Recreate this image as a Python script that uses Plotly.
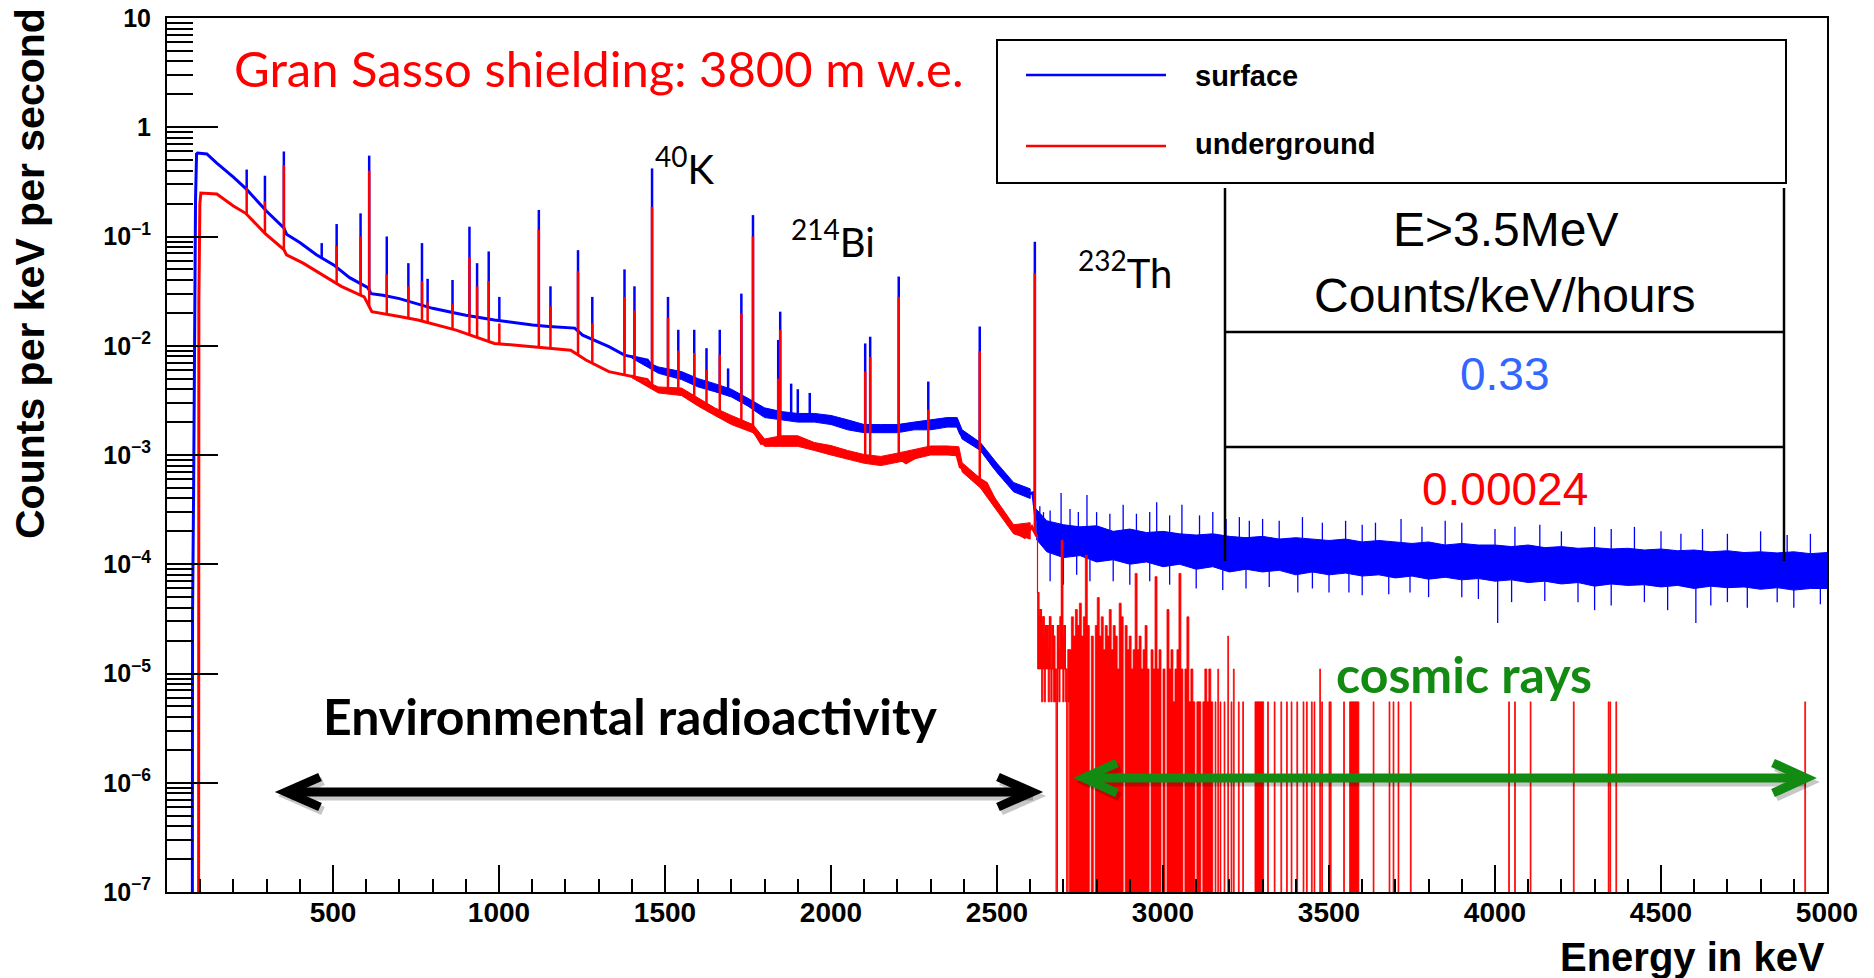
import numpy as np
import plotly.graph_objects as go

# ---------------- data ----------------
# Surface (blue) continuum, keV -> counts per keV per second
surf_cont_E = [76, 77, 80, 83, 86, 89, 92, 120, 150, 200, 240, 300, 352, 360, 400, 450, 502, 550, 605,
               615, 650, 700, 756, 800, 871, 900, 986, 1050, 1101, 1150, 1228, 1252, 1300, 1331, 1378,
               1447, 1465, 1520, 1600, 1678, 1727, 1770, 1788, 1881, 1996, 2050, 2111, 2226, 2300, 2376,
               2390, 2445, 2491, 2548, 2595, 2608, 2618]
surf_cont_V = [1e-9, 3.7e-5, 4.1e-4, 0.03, 0.22, 0.57, 0.58, 0.57, 0.47, 0.35, 0.27, 0.17, 0.12, 0.105,
               0.088, 0.068, 0.055, 0.042, 0.034, 0.030, 0.029, 0.027, 0.024, 0.022, 0.0198, 0.019,
               0.0172, 0.0162, 0.0155, 0.015, 0.0145, 0.0125, 0.0108, 0.0098, 0.0082, 0.0074, 0.0062,
               0.0058, 0.0045, 0.0040, 0.0034, 0.0028, 0.0025, 0.0023, 0.0022, 0.0019, 0.00175, 0.00175,
               0.0019, 0.0020, 0.00158, 0.0012, 0.00078, 0.00051, 0.00044, 0.00045, 2.5e-4]
# noisy (thick) part of the surface continuum: lower / upper edge
surf_noise_E = [1400, 1480, 1550, 1600, 1650, 1700, 1750, 1800, 1850, 1900, 1950, 2000, 2050, 2100, 2150,
                2200, 2250, 2300, 2350, 2380, 2395, 2450, 2500, 2550, 2600]
surf_noise_lo = [0.0077, 0.0056, 0.0049, 0.0042, 0.0038, 0.0034, 0.0028, 0.0022, 0.0021, 0.0020, 0.0020,
                 0.0019, 0.0017, 0.0016, 0.0016, 0.0016, 0.0017, 0.0017, 0.0018, 0.0018, 0.0014, 0.0011,
                 0.00069, 0.00046, 0.00040]
surf_noise_hi = [0.0081, 0.0064, 0.0058, 0.0050, 0.0045, 0.0040, 0.0033, 0.0027, 0.0025, 0.0024, 0.0024,
                 0.0023, 0.0021, 0.0019, 0.0019, 0.0019, 0.0020, 0.0021, 0.0022, 0.0022, 0.0017, 0.0013,
                 0.00084, 0.00056, 0.00049]

# Underground (red) continuum
ug_cont_E = [95, 96, 99, 102, 150, 200, 237, 295, 352, 360, 410, 525, 594, 617, 700, 756, 871, 986,
             1101, 1216, 1262, 1331, 1446, 1470, 1540, 1650, 1765, 1790, 1881, 1996, 2088, 2134, 2203,
             2226, 2290, 2376, 2389, 2468, 2514, 2549, 2583, 2605, 2620]
ug_cont_V = [1e-9, 0.025, 0.2, 0.25, 0.245, 0.19, 0.163, 0.107, 0.076, 0.068, 0.057, 0.035, 0.028,
             0.0205, 0.0185, 0.0172, 0.0139, 0.0105, 0.0098, 0.0091, 0.0074, 0.0058, 0.0049, 0.0040,
             0.0038, 0.0024, 0.0017, 0.00128, 0.00137, 0.00111, 0.00093, 0.0009, 0.00095, 0.00085,
             0.0011, 0.0011, 0.00078, 0.00055, 0.00029, 0.000205, 0.000177, 0.00022, 0.00018]
ug_noise_E = [1400, 1480, 1550, 1600, 1650, 1700, 1765, 1800, 1850, 1900, 1950, 2000, 2050, 2100, 2150,
              2200, 2250, 2300, 2350, 2385, 2395, 2450, 2500, 2550, 2600]
ug_noise_lo = [0.0051, 0.0037, 0.0035, 0.0028, 0.0023, 0.0019, 0.0016, 0.0012, 0.0012, 0.0012, 0.0011,
               0.00100, 0.00091, 0.00084, 0.00080, 0.00086, 0.00092, 0.00100, 0.00100, 0.00098, 0.00070,
               0.00050, 0.00031, 0.00019, 0.00017]
ug_noise_hi = [0.0054, 0.0042, 0.0041, 0.0033, 0.0027, 0.0023, 0.0019, 0.0014, 0.0015, 0.0015, 0.0013,
               0.00122, 0.00110, 0.00101, 0.00097, 0.00104, 0.00112, 0.00121, 0.00121, 0.00119, 0.00085,
               0.00061, 0.00038, 0.00023, 0.00024]

# Gamma lines: energy, top of surface line, top of underground line (0 = not visible)
peak_E = [240, 295, 352, 466, 511, 583, 609, 662, 727, 768, 785, 860, 911, 934, 969, 1001, 1120, 1155,
          1238, 1281, 1378, 1408, 1461, 1509, 1540, 1588, 1625, 1665, 1690, 1730, 1765, 1841, 1847,
          1880, 1900, 1936, 2103, 2118, 2204, 2293, 2448, 2614]
peak_surf = [0.41, 0.36, 0.60, 0.087, 0.13, 0.163, 0.55, 0.10, 0.057, 0.087, 0.041, 0.040, 0.123,
             0.057, 0.073, 0.028, 0.175, 0.035, 0.075, 0.028, 0.05, 0.035, 0.42, 0.028, 0.014, 0.014,
             0.0095, 0.014, 0.0062, 0.030, 0.157, 0.0113, 0.0205, 0.0045, 0.0040, 0.0037, 0.0105,
             0.0121, 0.043, 0.0047, 0.015, 0.0897]
peak_ug = [0.28, 0.21, 0.45, 0, 0.082, 0.10, 0.40, 0.045, 0.035, 0.039, 0.025, 0.024, 0.065, 0.035,
           0.039, 0.016, 0.115, 0.023, 0.048, 0.016, 0.028, 0.021, 0.187, 0.018, 0.009, 0.0086, 0.006,
           0.0083, 0, 0.0198, 0.10, 0.005, 0.014, 0, 0, 0, 0.0058, 0.0079, 0.028, 0.0026, 0.0089, 0.046]

# Surface spectrum above the 2614 keV line: noisy band (lower / upper edge)
surf_tail_E = [2618] + list(range(2650, 5001, 50))
surf_tail_lo = [1.7e-4, 1.3e-4, 1.15e-4, 1.2e-4, 1.05e-4, 1.1e-4, 1.0e-4, 1.05e-4, 9.5e-5, 1.0e-4, 9.0e-5,
                9.5e-5, 8.5e-5, 9.0e-5, 8.5e-5, 8.8e-5, 8.0e-5, 8.5e-5, 8.0e-5, 8.3e-5, 7.8e-5, 8.0e-5,
                7.5e-5, 7.8e-5, 7.3e-5, 7.6e-5, 7.2e-5, 7.4e-5, 7.0e-5, 7.2e-5, 6.8e-5, 7.0e-5, 6.6e-5,
                6.8e-5, 6.3e-5, 6.6e-5, 6.4e-5, 6.5e-5, 6.2e-5, 6.4e-5, 6.0e-5, 6.3e-5, 6.1e-5, 6.2e-5,
                5.9e-5, 6.1e-5, 5.8e-5, 6.0e-5, 6.0e-5]
surf_tail_hi = [3.2e-4, 2.5e-4, 2.3e-4, 2.2e-4, 2.25e-4, 2.0e-4, 2.1e-4, 1.95e-4, 2.0e-4, 1.9e-4, 1.85e-4,
                1.9e-4, 1.8e-4, 1.75e-4, 1.8e-4, 1.7e-4, 1.75e-4, 1.7e-4, 1.65e-4, 1.7e-4, 1.6e-4, 1.65e-4,
                1.6e-4, 1.55e-4, 1.6e-4, 1.5e-4, 1.55e-4, 1.5e-4, 1.5e-4, 1.45e-4, 1.5e-4, 1.42e-4, 1.45e-4,
                1.4e-4, 1.42e-4, 1.38e-4, 1.4e-4, 1.35e-4, 1.38e-4, 1.33e-4, 1.35e-4, 1.3e-4, 1.33e-4,
                1.28e-4, 1.3e-4, 1.27e-4, 1.3e-4, 1.25e-4, 1.28e-4]
surf_up_E = [2629, 2640, 2660, 2693, 2720, 2745, 2771, 2800, 2840, 2880, 2920, 2960, 2981, 3020, 3057,
             3110, 3150, 3190, 3230, 3260, 3300, 3350, 3420, 3480, 3550, 3600, 3640, 3717, 3780, 3850,
             3900, 4000, 4060, 4135, 4200, 4300, 4350, 4420, 4500, 4560, 4625, 4700, 4800, 4880, 4950]
surf_up_V = [3.4e-4, 3.0e-4, 3.1e-4, 4.5e-4, 3.2e-4, 3.0e-4, 4.3e-4, 3.0e-4, 2.9e-4, 3.5e-4, 2.9e-4,
             3.0e-4, 3.7e-4, 2.8e-4, 3.5e-4, 2.8e-4, 3.0e-4, 2.6e-4, 2.7e-4, 2.5e-4, 2.6e-4, 2.5e-4,
             2.7e-4, 2.4e-4, 2.5e-4, 2.3e-4, 2.4e-4, 2.6e-4, 2.2e-4, 2.5e-4, 2.4e-4, 2.1e-4, 2.2e-4,
             2.3e-4, 2.0e-4, 2.2e-4, 2.1e-4, 2.2e-4, 2.0e-4, 1.9e-4, 2.1e-4, 1.9e-4, 2.0e-4, 1.85e-4,
             1.9e-4]
surf_dn_E = [2660, 2700, 2740, 2780, 2850, 2900, 2960, 3020, 3100, 3180, 3250, 3320, 3406, 3450, 3500,
             3560, 3600, 3680, 3744, 3800, 3900, 3950, 4008, 4050, 4150, 4250, 4300, 4350, 4450, 4520,
             4605, 4650, 4700, 4760, 4850, 4900, 4980]
surf_dn_V = [7e-5, 6.5e-5, 8e-5, 7e-5, 7e-5, 6.5e-5, 7e-5, 6.5e-5, 6e-5, 5.8e-5, 6e-5, 6.2e-5, 5.5e-5,
             6e-5, 5.5e-5, 5.5e-5, 5.2e-5, 5.3e-5, 5.5e-5, 5e-5, 5e-5, 4.8e-5, 2.9e-5, 4.5e-5, 4.6e-5,
             4.5e-5, 3.8e-5, 4.2e-5, 4.5e-5, 3.8e-5, 2.9e-5, 4.2e-5, 4.5e-5, 4.0e-5, 4.5e-5, 4.0e-5,
             4.3e-5]

# Underground spectrum above 2614 keV, in counts (one count = ug_unit counts/keV/s)
ug_unit = 5.5e-6
ugA_E = list(range(2622, 2718, 4))            # bin low edges, 4 keV bins
ugA_counts = [10, 6, 7, 5, 6, 4, 5, 5, 3, 6, 2, 5, 4, 2, 0, 5, 3, 6, 30, 4, 5, 2, 0, 3]
ugA_floor = [2, 2, 2, 1, 2, 1, 2, 2, 1, 2, 1, 2, 1, 1, 0, 2, 1, 2, 2, 1, 2, 1, 0, 1]   # lower edge of the dense block
ugB_E = list(range(2718, 3150, 6))            # bin low edges, 6 keV bins
ugB_counts = [3, 6, 4, 7, 5, 8, 4, 6, 22, 5, 0, 4, 0, 5, 9, 4, 6, 3, 5, 4, 7, 3, 5, 4, 2, 8, 6, 0,
              5, 3, 4, 2, 3, 15, 3, 4, 2, 3, 5, 2, 0, 3, 2, 14, 2, 3, 0, 2, 0, 7, 2, 3, 1, 2, 3, 15,
              2, 0, 2, 6, 1, 2, 1, 0, 1, 1, 0, 1, 2, 1, 2, 1]
ugC_E = [3157, 3165, 3172, 3184, 3195, 3205, 3212, 3227, 3240, 3315, 3335, 3355, 3372, 3386, 3403,
         3422, 3432, 3447, 3455, 3472, 3478, 3500, 3504, 3544, 3633, 3681, 3693, 3708, 3745, 4041,
         4059, 4106, 4236, 4341, 4346, 4364, 4933]
ugC_counts = [1, 2, 1, 1, 4, 1, 2, 1, 1, 1, 1, 1, 1, 1, 1, 1, 1, 1, 1, 2, 1, 1, 1, 1, 1, 1, 1, 1, 1,
              1, 1, 1, 1, 1, 1, 1, 1]
ugC_blocks = [(3277, 3303), (3562, 3590)]

# ---------------- figure ----------------
BLUE, RED = '#0000ff', '#ff0000'
GREEN = '#138a12'
FLOOR = 1e-9


def foot(E, xs, ys):
    return 10 ** np.interp(E, xs, np.log10(ys))


def band(xs, lo, hi, color):
    return go.Scatter(x=list(xs) + list(xs)[::-1], y=list(hi) + list(lo)[::-1], mode='lines',
                      fill='toself', fillcolor=color, line=dict(color=color, width=1), hoverinfo='skip')


def spikes(Es, tops, xs, ys, color, width):
    X_, Y_ = [], []
    for E, top in zip(Es, tops):
        if top > 0:
            X_ += [E, E, None]
            Y_ += [foot(E, xs, ys), top, None]
    return go.Scatter(x=X_, y=Y_, mode='lines', line=dict(color=color, width=width), hoverinfo='skip')


fig = go.Figure()

# surface
fig.add_trace(go.Scatter(x=surf_cont_E, y=surf_cont_V, mode='lines',
                         line=dict(color=BLUE, width=3), hoverinfo='skip'))
fig.add_trace(band(surf_noise_E, surf_noise_lo, surf_noise_hi, BLUE))
fig.add_trace(spikes(peak_E, peak_surf, surf_cont_E, surf_cont_V, BLUE, 2.5))
fig.add_trace(band(surf_tail_E, surf_tail_lo, surf_tail_hi, BLUE))
fig.add_trace(spikes(surf_up_E, surf_up_V, surf_tail_E, surf_tail_hi, BLUE, 1.3))
fig.add_trace(spikes(surf_dn_E, surf_dn_V, surf_tail_E, surf_tail_lo, BLUE, 1.3))

# underground
fig.add_trace(go.Scatter(x=ug_cont_E, y=ug_cont_V, mode='lines',
                         line=dict(color=RED, width=3), hoverinfo='skip'))
fig.add_trace(band(ug_noise_E, ug_noise_lo, ug_noise_hi, RED))
fig.add_trace(spikes(peak_E, peak_ug, ug_cont_E, ug_cont_V, RED, 2.5))

ax = [ug_cont_E[-1]] + ugA_E + [ugA_E[-1] + 4]
ay = [ug_cont_V[-1]] + [c * ug_unit if c > 0 else FLOOR for c in ugA_counts] + \
     [ugA_counts[-1] * ug_unit]
fig.add_trace(go.Scatter(x=ax, y=ay, mode='lines', line=dict(color=RED, width=1.2, shape='hv'),
                         hoverinfo='skip'))

bx, by = [], []
for e, c, f in zip(ugA_E, ugA_counts, ugA_floor):
    if c > 0 and f > 0:
        bx += [e, e, e + 4, e + 4, e, None]
        by += [f * ug_unit, c * ug_unit, c * ug_unit, f * ug_unit, f * ug_unit, None]
bins = [(e, e + 6, c) for e, c in zip(ugB_E, ugB_counts)]
bins += [(e, e + 2.5, c) for e, c in zip(ugC_E, ugC_counts)]
bins += [(a, b, 1) for a, b in ugC_blocks]
for lo, hi, c in bins:
    if c > 0:
        v = c * ug_unit
        bx += [lo, lo, hi, hi, lo, None]
        by += [FLOOR, v, v, FLOOR, FLOOR, None]
fig.add_trace(go.Scatter(x=bx, y=by, mode='lines', fill='toself', fillcolor=RED,
                         line=dict(color=RED, width=0.8), hoverinfo='skip'))

# ---------------- layout / decorations ----------------
L, R, T, B = 167, 1827, 18, 892


def X(p):
    return (p - L) / (R - L)


def Y(p):
    return (B - p) / (B - T)


shapes = []


def seg(x0, y0, x1, y1, color='black', width=2.5):
    shapes.append(dict(type='line', xref='paper', yref='paper', x0=X(x0), y0=Y(y0), x1=X(x1), y1=Y(y1),
                       line=dict(color=color, width=width)))


def path(points, color, width):
    d = 'M ' + ' L '.join(f'{X(a):.5f},{Y(b):.5f}' for a, b in points)
    shapes.append(dict(type='path', xref='paper', yref='paper', path=d,
                       line=dict(color=color, width=width)))


# legend box
shapes.append(dict(type='rect', xref='paper', yref='paper', x0=X(997), x1=X(1786), y0=Y(183), y1=Y(40),
                   line=dict(color='black', width=2), fillcolor='white'))
seg(1026, 75, 1166, 75, BLUE, 2.5)
seg(1026, 146, 1166, 146, RED, 2.5)
# table
seg(1225, 188, 1225, 561)
seg(1784, 188, 1784, 561)
seg(1225, 332, 1784, 332)
seg(1225, 447, 1784, 447)

# arrows (with soft shadow)
for dx, dy, col in [(3, 4, 'rgba(0,0,0,0.22)'), (0, 0, 'black')]:
    seg(288 + dx, 792 + dy, 1030 + dx, 792 + dy, col, 9)
    path([(320 + dx, 777 + dy), (286 + dx, 792 + dy), (320 + dx, 807 + dy)], col, 9)
    path([(998 + dx, 777 + dy), (1032 + dx, 792 + dy), (998 + dx, 807 + dy)], col, 9)
for dx, dy, col in [(3, 4, 'rgba(0,0,0,0.22)'), (0, 0, GREEN)]:
    seg(1086 + dx, 778 + dy, 1803 + dx, 778 + dy, col, 9)
    path([(1117 + dx, 763 + dy), (1084 + dx, 778 + dy), (1117 + dx, 793 + dy)], col, 9)
    path([(1773 + dx, 763 + dy), (1806 + dx, 778 + dy), (1773 + dx, 793 + dy)], col, 9)

ann = []


def text(s, x, y, size, color='black', family='Lato', weight='normal', xanchor='left', angle=0):
    ann.append(dict(text=s, x=X(x), y=Y(y), xref='paper', yref='paper', showarrow=False,
                    xanchor=xanchor, yanchor='middle', textangle=angle,
                    font=dict(family=family, size=size, color=color, weight=weight)))


text('Gran Sasso shielding: 3800 m w.e.', 232, 68, 49, RED)
text('<sup>40</sup>K', 653, 166, 40)
text('<sup>214</sup>Bi', 789, 239, 40)
text('<sup>232</sup>Th', 1076, 270, 40)
text('Environmental radioactivity', 321, 716, 50, weight='bold')
text('cosmic rays', 1334, 674, 50, GREEN, weight='bold')
text('surface', 1193, 76, 29, family='Liberation Sans', weight='bold')
text('underground', 1193, 144, 29, family='Liberation Sans', weight='bold')
text('E&gt;3.5MeV', 1505, 229, 48, family='Liberation Sans', xanchor='center')
text('Counts/keV/hours', 1505, 295, 48, family='Liberation Sans', xanchor='center')
text('0.33', 1505, 374, 46, '#3366ff', family='Liberation Sans', xanchor='center')
text('0.00024', 1505, 489, 46, RED, family='Liberation Sans', xanchor='center')
text('Counts per keV per second', 30, 274, 41, family='Liberation Sans', weight='bold',
     xanchor='center', angle=-90)
text('Energy in keV', 1827, 957, 40, family='Liberation Sans', weight='bold', xanchor='right')

y_tickvals = [1e-7, 1e-6, 1e-5, 1e-4, 1e-3, 1e-2, 1e-1, 1, 10]
y_ticktext = ['10<sup>\u22127</sup>', '10<sup>\u22126</sup>', '10<sup>\u22125</sup>', '10<sup>\u22124</sup>',
              '10<sup>\u22123</sup>', '10<sup>\u22122</sup>', '10<sup>\u22121</sup>', '1', '10']
x_tickvals = [500, 1000, 1500, 2000, 2500, 3000, 3500, 4000, 4500, 5000]

fig.update_layout(
    width=1874, height=978, margin=dict(l=L, r=1874 - R, t=T, b=978 - B, autoexpand=False),
    paper_bgcolor='white', plot_bgcolor='white', showlegend=False,
    shapes=shapes, annotations=ann,
    xaxis=dict(range=[0, 5000], tickmode='array', tickvals=x_tickvals, automargin=False,
               ticks='inside', ticklen=27, tickwidth=2, tickcolor='black',
               minor=dict(dtick=100, ticks='inside', ticklen=13, tickwidth=2, tickcolor='black'),
               showline=True, linecolor='black', linewidth=2, mirror=True, showgrid=False,
               zeroline=False, ticklabelstandoff=-6,
               tickfont=dict(family='Liberation Sans', size=28, color='black', weight='bold')),
    yaxis=dict(type='log', range=[-7, 1], tickmode='array', tickvals=y_tickvals, ticktext=y_ticktext,
               automargin=False,
               ticks='inside', ticklen=51, tickwidth=2, tickcolor='black',
               minor=dict(dtick='D1', ticks='inside', ticklen=26, tickwidth=2, tickcolor='black'),
               showline=True, linecolor='black', linewidth=2, mirror=True, showgrid=False,
               zeroline=False, ticklabelstandoff=9,
               tickfont=dict(family='Liberation Sans', size=25, color='black', weight='bold')),
)

fig.write_html('out.html')
